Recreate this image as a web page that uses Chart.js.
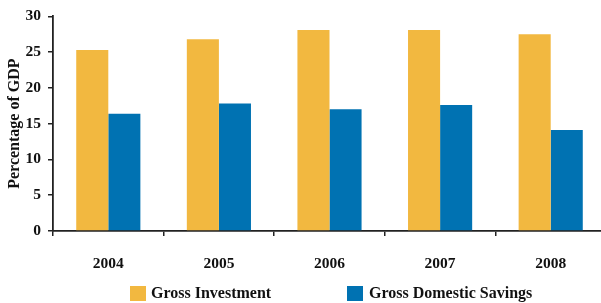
<!DOCTYPE html>
<html>
<head>
<meta charset="utf-8">
<script src="https://cdn.jsdelivr.net/npm/chart.js@4/dist/chart.umd.min.js"></script>
<style>
  html, body { margin: 0; padding: 0; background: #fff; overflow: hidden; width: 601px; height: 303px; }
  #wrap { position: absolute; left: 0; top: 0; width: 606px; height: 303px; }
  .legend { position: absolute; top: 285px; font: bold 16px "Liberation Serif", "Times New Roman", serif; color: #111; white-space: nowrap; }
  .legend .box { position: absolute; top: 1px; width: 16px; height: 15px; }
  .legend .txt { position: absolute; top: -1px; line-height: 18px; }
</style>
</head>
<body>
<div id="wrap"><canvas id="c"></canvas></div>
<div class="legend" id="lg1" style="left:130px"><span class="box" style="left:0;background:#F2B840"></span><span class="txt" style="left:21px">Gross Investment</span></div>
<div class="legend" id="lg2" style="left:347px"><span class="box" style="left:0;background:#0072B2"></span><span class="txt" style="left:22px">Gross Domestic Savings</span></div>
<script>
const categories = ['2004', '2005', '2006', '2007', '2008'];
const grossInvestment = [25.3, 26.8, 28.1, 28.1, 27.5];
const grossDomesticSavings = [16.4, 17.8, 17.0, 17.6, 14.1];
const seriesNames = ['Gross Investment', 'Gross Domestic Savings'];
const yTickValues = [0, 5, 10, 15, 20, 25, 30];

const tickFont = { family: '"Liberation Serif", "Times New Roman", serif', size: 15.5, weight: 'bold' };
const titleFont = { family: '"Liberation Serif", "Times New Roman", serif', size: 16, weight: 'bold' };

new Chart(document.getElementById('c'), {
  type: 'bar',
  data: {
    labels: categories,
    datasets: [
      { label: seriesNames[0], data: grossInvestment, backgroundColor: '#F2B840', borderWidth: 0 },
      { label: seriesNames[1], data: grossDomesticSavings, backgroundColor: '#0072B2', borderWidth: 0 }
    ]
  },
  options: {
    responsive: true,
    maintainAspectRatio: false,
    animation: false,
    devicePixelRatio: 1,
    categoryPercentage: 0.58,
    barPercentage: 1.0,
    layout: { padding: { top: 14, right: 0, bottom: 32, left: 0 } },
    plugins: { legend: { display: false }, tooltip: { enabled: false } },
    scales: {
      x: {
        offset: true,
        grid: { display: true, drawOnChartArea: false, offset: true, tickLength: 5, color: '#222', lineWidth: 1.5 },
        border: { display: true, color: '#222', width: 1.8 },
        ticks: { font: tickFont, color: '#111', padding: 19, maxRotation: 0 },
        afterFit: (s) => { s.height = 40; }
      },
      y: {
        min: 0,
        max: 30,
        afterBuildTicks: (s) => { s.ticks = yTickValues.map(v => ({ value: v })); },
        grid: { display: true, drawOnChartArea: false, tickLength: 5, color: '#222', lineWidth: 1.5 },
        border: { display: true, color: '#222', width: 1.8 },
        ticks: { font: tickFont, color: '#111', padding: 7 },
        title: { display: true, text: 'Percentage of GDP', font: titleFont, color: '#111', padding: { top: 5, bottom: 0 } },
        afterFit: (s) => { s.width = 53; }
      }
    }
  }
});
</script>
</body>
</html>
